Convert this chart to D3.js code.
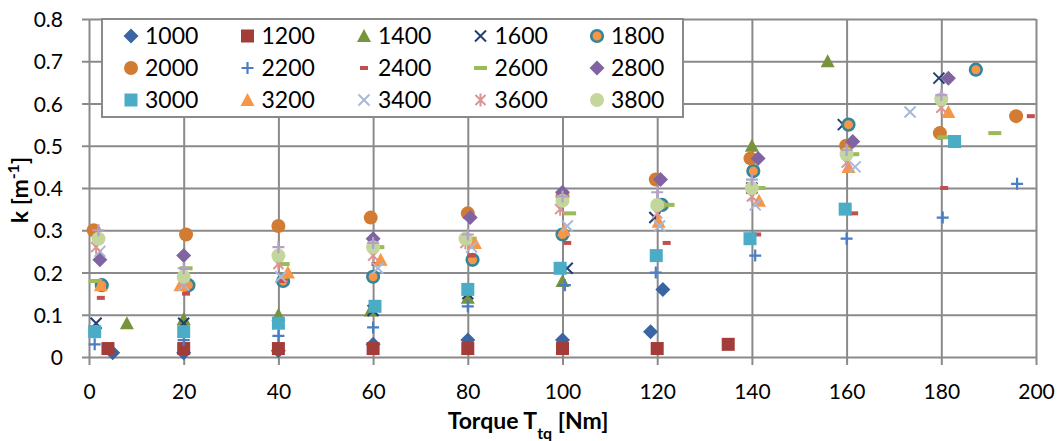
<!DOCTYPE html>
<html>
<head>
<meta charset="utf-8">
<script src="https://cdn.jsdelivr.net/npm/d3@7"></script>
<style>
  body { margin: 0; background: #fff; }
  text { font-family: Lato, "Open Sans", sans-serif; fill: #000; }
</style>
</head>
<body>
<div id="chart"></div>
<script>
// engine speeds (series names); 4000 is plotted but not in the legend
const speeds = [1000, 1200, 1400, 1600, 1800, 2000, 2200, 2400, 2600, 2800, 3000, 3200, 3400, 3600, 3800, 4000];

// [torque, k] points, one array per speed
const s1000 = [[5,0.01],[20,0.01],[40,0.015],[60,0.03],[80,0.04],[100,0.04],[118.6,0.06],[121.2,0.16]];
const s1200 = [[4,0.02],[20,0.02],[40,0.02],[60,0.02],[80,0.02],[100,0.02],[120,0.02],[135,0.03]];
const s1400 = [[8,0.08],[20,0.09],[40,0.10],[59.5,0.11],[80,0.14],[100,0.18],[140,0.50],[156,0.70]];
const s1600 = [[1.5,0.08],[20,0.08],[40,0.08],[60,0.11],[80,0.15],[101,0.21],[119.5,0.33],[140,0.40],[159.3,0.55],[179.5,0.66]];
const s1800 = [[2.7,0.17],[21,0.17],[41,0.18],[60,0.19],[81,0.23],[100,0.29],[121,0.36],[140.3,0.44],[160.4,0.55],[187.3,0.68]];
const s2000 = [[1,0.30],[20.5,0.29],[40,0.31],[59.5,0.33],[80,0.34],[100,0.38],[119.7,0.42],[139.7,0.47],[159.9,0.50],[179.7,0.53],[195.8,0.57]];
const s2200 = [[1.2,0.03],[20,0.04],[40,0.05],[60,0.07],[80,0.12],[100.5,0.17],[119.7,0.20],[140.7,0.24],[160,0.28],[180.3,0.33],[196,0.41]];
const s2400 = [[2.5,0.14],[20.5,0.15],[41,0.18],[60.5,0.22],[80.8,0.24],[101,0.27],[122,0.27],[141.1,0.29],[161.6,0.34],[180.6,0.40],[198.9,0.57]];
const s2600 = [[1.3,0.18],[20.5,0.21],[41,0.22],[61,0.26],[80.5,0.28],[101.5,0.34],[122.3,0.36],[141.5,0.40],[161.3,0.48],[180.5,0.52],[191.3,0.53]];
const s2800 = [[2.3,0.23],[20,0.24],[60,0.28],[80.5,0.33],[100,0.39],[120.7,0.42],[141.3,0.47],[161.3,0.51],[181.5,0.66]];
const s3000 = [[1.2,0.06],[20,0.06],[40,0.08],[60.4,0.12],[80,0.16],[99.5,0.21],[119.8,0.24],[139.6,0.28],[159.7,0.35],[182.8,0.51]];
const s3200 = [[2.5,0.17],[19.3,0.17],[42,0.20],[61.6,0.23],[81.5,0.27],[100.3,0.30],[120.3,0.32],[141.5,0.37],[160.4,0.45],[181.5,0.58]];
const s3400 = [[2.3,0.25],[20,0.17],[40.5,0.19],[61,0.21],[80.8,0.26],[101,0.31],[120.5,0.31],[140.7,0.36],[161.8,0.45],[173.4,0.58]];
const s3600 = [[1.5,0.26],[20,0.18],[40,0.22],[60,0.24],[79.5,0.27],[99.5,0.35],[120,0.34],[140,0.38],[160,0.46],[180,0.59]];
const s3800 = [[2,0.28],[20,0.19],[40,0.24],[60,0.26],[79.5,0.28],[100,0.37],[120,0.36],[140,0.40],[160,0.48],[180,0.61]];
const s4000 = [[2,0.30],[20,0.21],[40,0.26],[60,0.27],[80,0.29],[100,0.38],[120,0.39],[140,0.42],[160,0.49],[180,0.62]];

const xTicks = [0, 20, 40, 60, 80, 100, 120, 140, 160, 180, 200];
const yTicks = [0, 0.1, 0.2, 0.3, 0.4, 0.5, 0.6, 0.7, 0.8];

const seriesData = [s1000, s1200, s1400, s1600, s1800, s2000, s2200, s2400, s2600, s2800, s3000, s3200, s3400, s3600, s3800, s4000];

// marker style per series (Excel-like cycle)
const markers = [
  {type: "diamond", fill: "#3B65A2"},
  {type: "square", fill: "#A23D3A"},
  {type: "triangle", fill: "#77933C"},
  {type: "x", stroke: "#1F3F74"},
  {type: "ring", fill: "#F79646", stroke: "#31859C"},
  {type: "circle", fill: "#D27B32"},
  {type: "plus", stroke: "#4A7EC4"},
  {type: "dash", fill: "#C0504D"},
  {type: "longdash", fill: "#9BBB59"},
  {type: "diamond", fill: "#8064A2"},
  {type: "square", fill: "#4BACC6"},
  {type: "triangle", fill: "#F79646"},
  {type: "x", stroke: "#A7B9D9"},
  {type: "star", stroke: "#D99694"},
  {type: "circle", fill: "#C3D69B"},
  {type: "plus", stroke: "#B3A2C7"}
];

var margin = {top: 19, right: 26, bottom: 84, left: 89},
    width = 1062 - margin.left - margin.right,
    height = 441 - margin.top - margin.bottom;

const svg = d3.select("#chart")
  .append("svg")
    .attr("width", 1062)
    .attr("height", 441)
  .append("g")
    .attr("transform", `translate(${margin.left}, ${margin.top})`);

const x = d3.scaleLinear().domain([0, 200]).range([0, width]);
const y = d3.scaleLinear().domain([0, 0.8]).range([height, 0]);

const gridColor = "#8a8a8a";

// X axis: gridlines reaching down past the axis as tick marks
const xAxis = svg.append("g")
  .attr("transform", `translate(0, ${height + 8})`)
  .call(d3.axisBottom(x).tickValues(xTicks).tickSize(-(height + 8)).tickPadding(0));
xAxis.select(".domain").remove();
xAxis.selectAll("line").attr("stroke", gridColor).attr("stroke-width", 2);
xAxis.selectAll("text").attr("dy", null).attr("y", 34)
  .style("font-size", "21px").style("font-family", "Lato, sans-serif");

// Y axis
const yAxis = svg.append("g")
  .attr("transform", "translate(-7, 0)")
  .call(d3.axisLeft(y).tickValues(yTicks).tickSize(-(width + 7)).tickPadding(19)
    .tickFormat(d => d === 0 ? "0" : d.toFixed(1)));
yAxis.select(".domain").remove();
yAxis.selectAll("line").attr("stroke", gridColor).attr("stroke-width", 2);
yAxis.selectAll("text").attr("dy", "0.36em")
  .style("font-size", "21px").style("font-family", "Lato, sans-serif");

// draw one marker into a group at (0,0)
function drawMarker(g, m) {
  if (m.type === "diamond") {
    g.append("path").attr("d", "M0,-7.5L7.5,0L0,7.5L-7.5,0Z").attr("fill", m.fill);
  } else if (m.type === "square") {
    g.append("rect").attr("x", -6.5).attr("y", -6.5).attr("width", 13).attr("height", 13).attr("fill", m.fill);
  } else if (m.type === "triangle") {
    g.append("path").attr("d", "M0,-7L7,6L-7,6Z").attr("fill", m.fill);
  } else if (m.type === "x") {
    g.append("path").attr("d", "M-5.5,-5.5L5.5,5.5M-5.5,5.5L5.5,-5.5")
      .attr("stroke", m.stroke).attr("stroke-width", 2).attr("fill", "none");
  } else if (m.type === "star") {
    g.append("path").attr("d", "M-5,-5L5,5M-5,5L5,-5M0,-6.5L0,6.5")
      .attr("stroke", m.stroke).attr("stroke-width", 2).attr("fill", "none");
  } else if (m.type === "plus") {
    g.append("path").attr("d", "M-6,0L6,0M0,-6L0,6")
      .attr("stroke", m.stroke).attr("stroke-width", 2.2).attr("fill", "none");
  } else if (m.type === "circle") {
    g.append("circle").attr("r", 7).attr("fill", m.fill);
  } else if (m.type === "ring") {
    g.append("circle").attr("r", 5.8).attr("fill", m.fill)
      .attr("stroke", m.stroke).attr("stroke-width", 2.6);
  } else if (m.type === "dash") {
    g.append("rect").attr("x", -4).attr("y", -2).attr("width", 8).attr("height", 4).attr("fill", m.fill);
  } else if (m.type === "longdash") {
    g.append("rect").attr("x", -6.5).attr("y", -2).attr("width", 13).attr("height", 4).attr("fill", m.fill);
  }
}

// series points, in series order so later series sit on top
seriesData.forEach(function(pts, i) {
  svg.append("g")
    .attr("class", "series s" + speeds[i])
    .selectAll("g")
    .data(pts)
    .enter()
    .append("g")
      .attr("transform", d => `translate(${x(d[0])}, ${y(d[1])})`)
      .each(function() { drawMarker(d3.select(this), markers[i]); });
});

// Legend box (top-left inside the plot)
const legend = svg.append("g").attr("transform", "translate(13, 0)");
legend.append("rect")
  .attr("x", 0).attr("y", 0)
  .attr("width", 581).attr("height", 98)
  .attr("fill", "#fff")
  .attr("stroke", gridColor).attr("stroke-width", 2);

speeds.slice(0, 15).forEach(function(s, i) {
  const col = i % 5, row = Math.floor(i / 5);
  const item = legend.append("g")
    .attr("transform", `translate(${29 + col * 116.5}, ${17 + row * 32})`);
  drawMarker(item.append("g"), markers[i]);
  item.append("text")
    .attr("x", 14).attr("y", 8)
    .style("font-size", "23px")
    .text(s);
});

// axis titles
const xLab = svg.append("text")
  .attr("text-anchor", "middle")
  .attr("x", 439)
  .attr("y", height + 72)
  .style("font-size", "23px").style("font-weight", "bold");
xLab.append("tspan").text("Torque T");
xLab.append("tspan").attr("baseline-shift", "sub").style("font-size", "16px").text("tq");
xLab.append("tspan").text(" [Nm]");

const yLab = svg.append("text")
  .attr("text-anchor", "middle")
  .attr("transform", `translate(${-61}, ${height / 2 + 2}) rotate(-90)`)
  .style("font-size", "23px").style("font-weight", "bold");
yLab.append("tspan").text("k [m");
yLab.append("tspan").attr("baseline-shift", "super").style("font-size", "16px").text("-1");
yLab.append("tspan").text("]");
</script>
</body>
</html>
